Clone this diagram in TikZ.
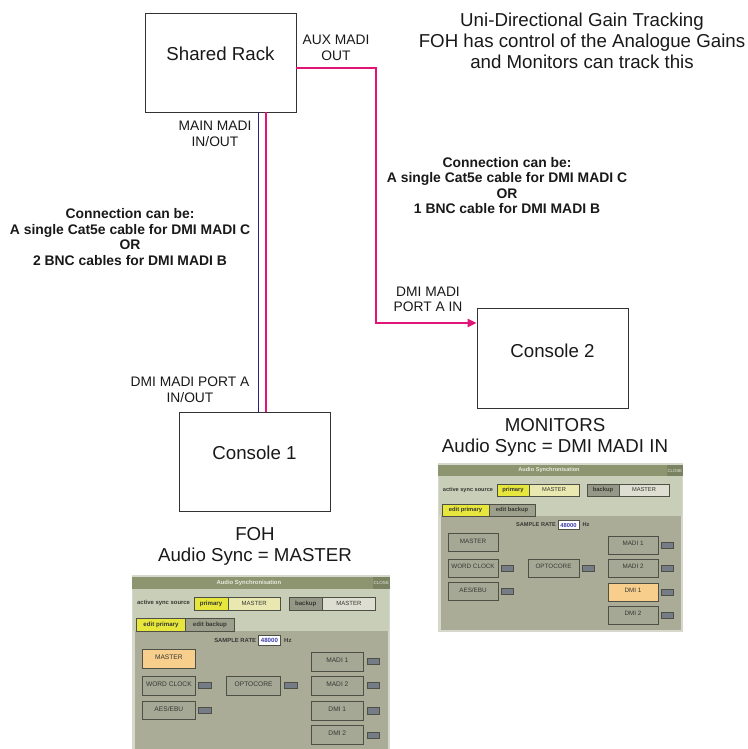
\documentclass[tikz,border=0pt]{standalone}
\usepackage{fontspec}
\setmainfont{Liberation Sans}
\usetikzlibrary{arrows.meta}

\definecolor{wireblue}{RGB}{42,32,128}
\definecolor{wirepink}{RGB}{225,20,120}
\definecolor{hdrfill}{RGB}{140,148,112}
\definecolor{hdrtext}{RGB}{232,234,222}
\definecolor{closefill}{RGB}{122,131,97}
\definecolor{pframe}{RGB}{214,216,204}
\definecolor{pupper}{RGB}{200,206,184}
\definecolor{pbody}{RGB}{170,172,152}
\definecolor{pedge}{RGB}{78,80,70}
\definecolor{ptext}{RGB}{55,55,50}
\definecolor{btnfill}{RGB}{166,168,150}
\definecolor{lampfill}{RGB}{118,124,134}
\definecolor{syncyellow}{RGB}{230,230,60}
\definecolor{paleyellow}{RGB}{232,232,176}
\definecolor{peach}{RGB}{247,206,140}
\definecolor{backfill}{RGB}{150,152,135}
\definecolor{lightmaster}{RGB}{222,222,210}
\definecolor{tabgray}{RGB}{156,159,140}
\definecolor{ratetext}{RGB}{60,60,170}

\tikzset{
  unit/.style={draw=black!80, line width=0.8pt, minimum width=151pt, minimum height=99pt, inner sep=0pt},
  bigtxt/.style={font=\fontsize{18.7}{21}\selectfont, align=center, inner sep=0pt, text=black!90},
  smalltxt/.style={font=\fontsize{13.8}{15.5}\selectfont, align=center, inner sep=0pt, text=black!90},
  notetxt/.style={font=\bfseries\fontsize{13.9}{15.6}\selectfont, align=center, inner sep=0pt, text=black!90},
  bluewire/.style={draw=wireblue, line width=1.6pt},
  pinkwire/.style={draw=wirepink, line width=2pt},
  ptxt/.style={font=\bfseries\fontsize{5.6}{6}\selectfont, text=ptext, inner sep=0pt},
  pbox/.style={draw=pedge, line width=0.5pt, inner sep=0pt, minimum height=12pt, font=\bfseries\fontsize{5.8}{6}\selectfont, text=ptext},
  btn/.style={draw=pedge, line width=0.6pt, fill=btnfill, minimum width=50pt, minimum height=18pt, inner sep=0pt, text depth=3pt, font=\fontsize{6.3}{7}\selectfont, text=ptext},
  lamp/.style={draw=pedge, line width=0.5pt, fill=lampfill, minimum width=12pt, minimum height=6pt, inner sep=0pt},
}

% audio sync panel: #1 name, #2 fill of MASTER, #3 fill of DMI 1
\newcommand{\syncpanel}[3]{%
  \fill[pframe] (0,0) rectangle (245,169);
  \fill[pupper] (1,13) rectangle (244,53);
  \fill[pbody] (3,53) rectangle (243,167);
  \node[fill=hdrfill, minimum width=245pt, minimum height=11pt, inner sep=0pt, anchor=north west] (#1-hdr) at (0,2) {};
  \node[ptxt, text=hdrtext] (#1-title) at (111,7.5) {Audio Synchronisation};
  \node[fill=closefill, minimum width=16pt, minimum height=11pt, inner sep=0pt, anchor=north east,
        font=\fontsize{4.3}{4.5}\selectfont, text=hdrtext] (#1-close) at (245,2) {CLOSE};
  \node[ptxt] (#1-src) at (30,27) {active sync source};
  \node[pbox, fill=syncyellow, minimum width=32pt] (#1-prim) at (75,27) {primary};
  \node[pbox, fill=paleyellow, minimum width=50pt, font=\fontsize{5.7}{6}\selectfont] (#1-pmaster) at (116,27) {MASTER};
  \node[pbox, fill=backfill, minimum width=32pt] (#1-back) at (165,27) {backup};
  \node[pbox, fill=lightmaster, minimum width=50pt, font=\fontsize{5.7}{6}\selectfont] (#1-bmaster) at (206,27) {MASTER};
  \node[pbox, fill=syncyellow, minimum width=47pt] (#1-tabp) at (27.5,47) {edit primary};
  \node[pbox, fill=tabgray, minimum width=46pt] (#1-tabb) at (74,47) {edit backup};
  \node[ptxt] (#1-rate) at (98,62) {SAMPLE RATE};
  \node[pbox, fill=white, minimum width=21pt, minimum height=9pt, text=ratetext] (#1-rateval) at (130.5,62) {48000};
  \node[ptxt] (#1-hz) at (148,62) {Hz};
  \node[btn, fill=#2] (#1-master) at (35,79.5) {MASTER};
  \node[btn] (#1-wclk) at (35,105) {WORD CLOCK};
  \node[btn] (#1-aes) at (35,128.5) {AES/EBU};
  \node[btn, minimum width=51pt] (#1-opto) at (115.5,105) {OPTOCORE};
  \foreach \nm/\y in {wclk/105, aes/128.5}
    \node[lamp] (#1-\nm-lamp) at (69,\y) {};
  \node[lamp] (#1-opto-lamp) at (150.5,105) {};
  \foreach \nm/\y/\txt/\col in {madi1/82/MADI 1/btnfill, madi2/105/MADI 2/btnfill, dmi1/129/DMI 1/#3, dmi2/152/DMI 2/btnfill} {
    \node[btn, fill=\col] (#1-\nm) at (195,\y) {\txt};
    \node[lamp] (#1-\nm-lamp) at (229,\y) {};
  }
}

\begin{document}
\begin{tikzpicture}[x=1pt, y=-1pt]
\useasboundingbox (0,0) rectangle (747,749);
% units
\node[unit] (rack) at (220.5,62.5) {};
\node[unit] (con1) at (254.5,461.5) {};
\node[unit, minimum height=100pt] (con2) at (552.5,358) {};
\node[bigtxt] (racklbl) at (220.5,54) {Shared Rack};
\node[bigtxt] (con1lbl) at (254.5,453) {Console 1};
\node[bigtxt] (con2lbl) at (552.5,351) {Console 2};

% madi links
\draw[bluewire] ([xshift=38pt]rack.south) -- ([xshift=4pt]con1.north);
\draw[pinkwire] ([xshift=45.5pt]rack.south) -- ([xshift=11.5pt]con1.north);
\draw[pinkwire, -{Triangle[length=9pt,width=8pt]}] ([yshift=-5.5pt]rack.east) -- ++(80,0) |- ([yshift=35pt]con2.west);

% labels
\node[bigtxt] (title) at (582,40.5) {Uni-Directional Gain Tracking\\FOH has control of the Analogue Gains\\and Monitors can track this};
\node[smalltxt] (auxlbl) at (336,48) {AUX MADI\\OUT};
\node[smalltxt] (mainlbl) at (215,134) {MAIN MADI\\IN/OUT};
\node[smalltxt] (con1port) at (190,389.5) {DMI MADI PORT A\\IN/OUT};
\node[smalltxt] (con2port) at (428,299.5) {DMI MADI\\PORT A IN};
\node[notetxt] (mainnote) at (130,237) {Connection can be:\\A single Cat5e cable for DMI MADI C\\OR\\2 BNC cables for DMI MADI B};
\node[notetxt] (auxnote) at (507,185.5) {Connection can be:\\A single Cat5e cable for DMI MADI C\\OR\\1 BNC cable for DMI MADI B};
\node[bigtxt] (fohlbl) at (255,546) {FOH\\Audio Sync = MASTER};
\node[bigtxt] (monlbl) at (555,437.5) {MONITORS\\Audio Sync = DMI MADI IN};

% screenshots
\begin{scope}[shift={(132,575)}, scale=1.053, transform shape]
  \syncpanel{foh}{peach}{btnfill}
\end{scope}
\begin{scope}[shift={(438,463)}]
  \syncpanel{mon}{btnfill}{peach}
\end{scope}
\end{tikzpicture}
\end{document}
